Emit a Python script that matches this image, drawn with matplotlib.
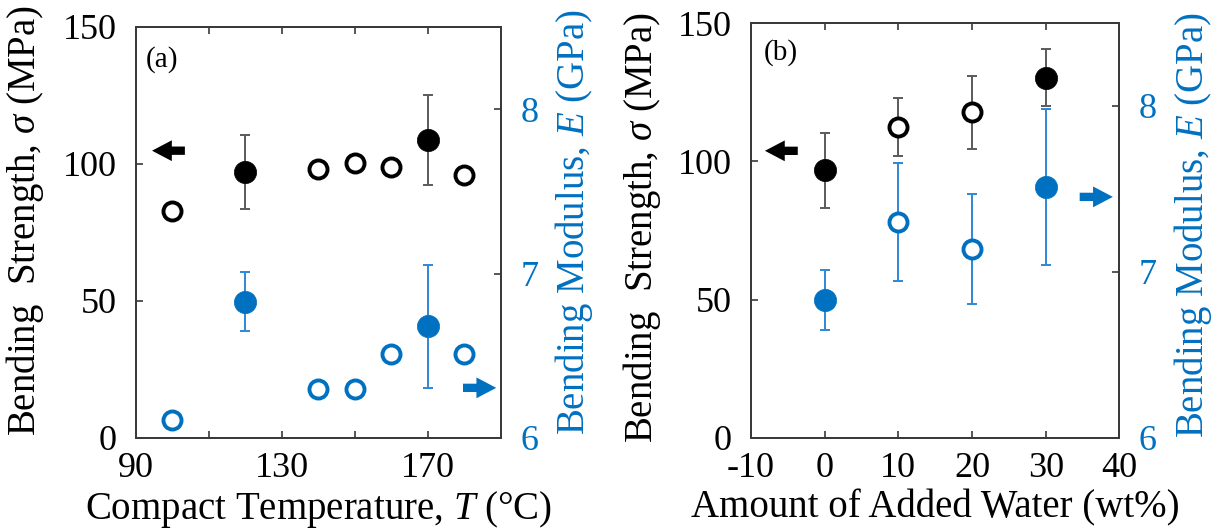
import matplotlib
matplotlib.use("Agg")
import matplotlib.pyplot as plt

plt.rcParams["font.family"] = ["Liberation Serif", "DejaVu Serif"]
plt.rcParams["mathtext.fontset"] = "custom"
plt.rcParams["mathtext.rm"] = "Liberation Serif"
plt.rcParams["mathtext.it"] = "Liberation Serif:italic"
plt.rcParams["axes.unicode_minus"] = False

BLACK = "#000000"
BLUE = "#0070C0"
BAR_GRAY = "#5A5A5A"
BAR_BLUE = "#2F88D4"
SPINE = "#3A3A3A"

# (a) compaction temperature series
temp_filled = [120, 170]
temp_open = [100, 140, 150, 160, 180]
strength_a_filled = [97.0, 108.7]
strength_a_filled_err = [13.5, 16.4]
strength_a_open = [83.0, 98.2, 100.2, 99.0, 96.1]
modulus_a_filled = [6.83, 6.68]
modulus_a_filled_err = [0.18, 0.375]
modulus_a_open = [6.11, 6.30, 6.30, 6.51, 6.51]

# (b) added water series
water_filled = [0, 30]
water_open = [10, 20]
strength_b_filled = [96.7, 130.3]
strength_b_filled_err = [13.6, 10.3]
strength_b_open = [112.5, 117.7]
strength_b_open_err = [10.4, 13.1]
modulus_b_filled = [6.83, 7.51]
modulus_b_filled_err = [0.18, 0.47]
modulus_b_open = [7.30, 7.14]
modulus_b_open_err = [0.355, 0.33]

xticks_a = [90, 110, 130, 150, 170, 190]
xticklabels_a = ["90", "", "130", "", "170", ""]
xticks_b = [-10, 0, 10, 20, 30, 40]
yticks_left = [0, 50, 100, 150]
yticks_right = [6, 7, 8]

TICK_FS = 26
LABEL_FS = 28
MS_FILLED = 16
MS_OPEN = 13
MEW_OPEN = 2.8
EB = dict(fmt="none", elinewidth=1.4, capsize=3.5, capthick=1.4, zorder=2)

fig = plt.figure(figsize=(12.13, 5.30), dpi=100)
ax_a = fig.add_axes([0.1121, 0.1736, 0.3009, 0.7755])
ax_b = fig.add_axes([0.6191, 0.1736, 0.3038, 0.7830])


def style_axes(ax, ax2):
    for a in (ax, ax2):
        for sp in a.spines.values():
            sp.set_color(SPINE)
            sp.set_linewidth(1.4)
    ax.tick_params(axis="both", direction="in", length=5, width=1.2,
                   labelsize=TICK_FS, colors=SPINE, labelcolor=BLACK, top=True, right=False)
    ax.tick_params(axis="x", pad=10)
    ax.tick_params(axis="y", pad=14)
    ax2.tick_params(axis="y", direction="in", length=5, width=1.2,
                    labelsize=TICK_FS, labelcolor=BLUE, color=SPINE, pad=14)
    ax.set_ylim(0, 150)
    ax.set_yticks(yticks_left)
    ax2.set_ylim(6, 8.5)
    ax2.set_yticks(yticks_right)


def arrow(ax, x_tail, x_head, y, color):
    ax.annotate("", xy=(x_head, y), xytext=(x_tail, y),
                xycoords="axes fraction", textcoords="axes fraction",
                arrowprops=dict(arrowstyle="simple,head_length=0.95,head_width=1.0,tail_width=0.4",
                                mutation_scale=15, color=color, shrinkA=0, shrinkB=0, lw=0))


# ---- panel (a)
ax_a2 = ax_a.twinx()
ax_a.set_xlim(90, 190)
ax_a.set_xticks(xticks_a)
ax_a.set_xticklabels(xticklabels_a)
style_axes(ax_a, ax_a2)
ax_a.set_xlabel(r"Compact Temperature, $T$ (°C)", fontsize=LABEL_FS)
ax_a.xaxis.set_label_coords(0.50, -0.125)
ax_a.set_ylabel(r"Bending  Strength, $\sigma$ (MPa)", fontsize=LABEL_FS)
ax_a.yaxis.set_label_coords(-0.247, 0.53)
ax_a2.set_ylabel(r"Bending Modulus, $E$ (GPa)", fontsize=LABEL_FS, color=BLUE)
ax_a2.yaxis.set_label_coords(1.142, 0.525)

ax_a.errorbar(temp_filled, strength_a_filled, yerr=strength_a_filled_err, ecolor=BAR_GRAY, **EB)
ax_a.plot(temp_filled, strength_a_filled, "o", ms=MS_FILLED, color=BLACK, mew=0.5, zorder=3)
ax_a.plot(temp_open, strength_a_open, "o", ms=MS_OPEN, mfc="white", mec=BLACK, mew=MEW_OPEN, zorder=3)

ax_a2.errorbar(temp_filled, modulus_a_filled, yerr=modulus_a_filled_err, ecolor=BAR_BLUE, **EB)
ax_a2.plot(temp_filled, modulus_a_filled, "o", ms=MS_FILLED, color=BLUE, mew=0.5, zorder=3)
ax_a2.plot(temp_open, modulus_a_open, "o", ms=MS_OPEN, mfc="white", mec=BLUE, mew=MEW_OPEN, zorder=3)

ax_a.text(0.07, 0.92, "(a)", transform=ax_a.transAxes, fontsize=21, ha="center", va="center")
arrow(ax_a, 0.134, 0.044, 0.699, BLACK)
arrow(ax_a2, 0.896, 0.987, 0.122, BLUE)

# ---- panel (b)
ax_b2 = ax_b.twinx()
ax_b.set_xlim(-10, 40)
ax_b.set_xticks(xticks_b)
style_axes(ax_b, ax_b2)
ax_b.set_xlabel("Amount of Added Water (wt%)", fontsize=LABEL_FS)
ax_b.xaxis.set_label_coords(0.50, -0.123)
ax_b.set_ylabel(r"Bending  Strength, $\sigma$ (MPa)", fontsize=LABEL_FS)
ax_b.yaxis.set_label_coords(-0.239, 0.508)
ax_b2.set_ylabel(r"Bending Modulus, $E$ (GPa)", fontsize=LABEL_FS, color=BLUE)
ax_b2.yaxis.set_label_coords(1.1425, 0.513)

ax_b.errorbar(water_filled, strength_b_filled, yerr=strength_b_filled_err, ecolor=BAR_GRAY, **EB)
ax_b.errorbar(water_open, strength_b_open, yerr=strength_b_open_err, ecolor=BAR_GRAY, **EB)
ax_b.plot(water_filled, strength_b_filled, "o", ms=MS_FILLED, color=BLACK, mew=0.5, zorder=3)
ax_b.plot(water_open, strength_b_open, "o", ms=MS_OPEN, mfc="white", mec=BLACK, mew=MEW_OPEN, zorder=3)

ax_b2.errorbar(water_filled, modulus_b_filled, yerr=modulus_b_filled_err, ecolor=BAR_BLUE, **EB)
ax_b2.errorbar(water_open, modulus_b_open, yerr=modulus_b_open_err, ecolor=BAR_BLUE, **EB)
ax_b2.plot(water_filled, modulus_b_filled, "o", ms=MS_FILLED, color=BLUE, mew=0.5, zorder=3)
ax_b2.plot(water_open, modulus_b_open, "o", ms=MS_OPEN, mfc="white", mec=BLUE, mew=MEW_OPEN, zorder=3)

ax_b.text(0.08, 0.93, "(b)", transform=ax_b.transAxes, fontsize=21, ha="center", va="center")
arrow(ax_b, 0.127, 0.038, 0.692, BLACK)
arrow(ax_b2, 0.892, 0.982, 0.581, BLUE)

fig.savefig("out.png", dpi=100, facecolor="white")
